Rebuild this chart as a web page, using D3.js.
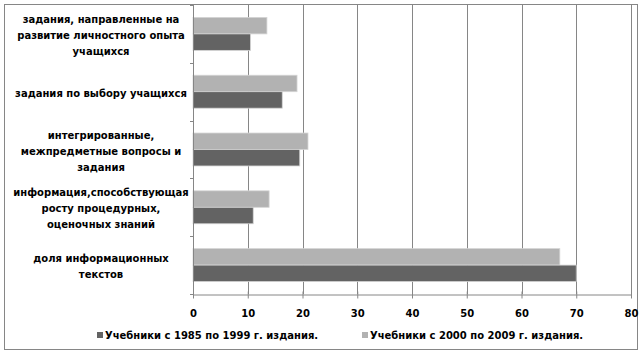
<!DOCTYPE html>
<html>
<head>
<meta charset="utf-8">
<script src="https://cdn.jsdelivr.net/npm/d3@7"></script>
<style>
  html, body { margin: 0; padding: 0; background: #fff; }
  svg { display: block; }
  text { font-family: "DejaVu Sans", Verdana, sans-serif; font-weight: bold; fill: #000; }
</style>
</head>
<body>
<div id="chart"></div>
<script>
// Category labels, already wrapped the way the reference wraps them
const categories = [
    ["задания, направленные на", "развитие личностного опыта", "учащихся"],
    ["задания по выбору учащихся"],
    ["интегрированные,", "межпредметные вопросы и", "задания"],
    ["информация,способствующая", "росту процедурных,", "оценочных знаний"],
    ["доля информационных", "текстов"]
];
const seriesNames = ["Учебники с 1985 по 1999 г. издания.", "Учебники с 2000 по 2009 г. издания."];
const values1985 = [10.5, 16.3, 19.5, 11.0, 70.0];
const values2000 = [13.5, 19.0, 21.0, 13.9, 67.0];
const xTicks = [0, 10, 20, 30, 40, 50, 60, 70, 80];

const width = 644;
const height = 355;
const colors = { s1985: "#636363", s2000: "#b2b2b2" };
const gridColor = "#868686";

const svg = d3.select("#chart").append("svg")
    .attr("width", width)
    .attr("height", height);

// chart border
svg.append("rect")
    .attr("x", 4.5).attr("y", 4.5)
    .attr("width", 633).attr("height", 345)
    .attr("fill", "#fff")
    .attr("stroke", gridColor);

const plot = { left: 193, right: 631, top: 5, bottom: 294 };

const x = d3.scaleLinear().domain([0, 80]).range([plot.left, plot.right]);
const y = d3.scaleBand()
    .domain(d3.range(categories.length))
    .range([plot.top, plot.bottom])
    .paddingInner(0.43)
    .paddingOuter(0.215);
// light bar sits above the dark one inside each category
const ySub = d3.scaleBand().domain(["s2000", "s1985"]).range([0, y.bandwidth()]);

// vertical gridlines
svg.append("g")
    .selectAll("line")
    .data(xTicks.slice(1))
    .join("line")
    .attr("x1", d => Math.round(x(d)) + 0.5)
    .attr("x2", d => Math.round(x(d)) + 0.5)
    .attr("y1", plot.top)
    .attr("y2", plot.bottom)
    .attr("stroke", gridColor);

// bars
const rows = categories.map((c, i) => ({ i, s1985: values1985[i], s2000: values2000[i] }));
const groups = svg.append("g")
    .selectAll("g")
    .data(rows)
    .join("g")
    .attr("transform", d => `translate(0,${y(d.i)})`);

groups.selectAll("rect")
    .data(d => ["s2000", "s1985"].map(k => ({ k, v: d[k] })))
    .join("rect")
    .attr("x", x(0))
    .attr("y", d => ySub(d.k))
    .attr("width", d => x(d.v) - x(0))
    .attr("height", ySub.bandwidth())
    .attr("fill", d => colors[d.k])
    .attr("stroke", "#d4d4d4")
    .attr("stroke-width", 0.8);

// bottom axis with crossing ticks
const xAxis = svg.append("g")
    .attr("transform", `translate(0,${plot.bottom + 0.5})`)
    .call(d3.axisBottom(x).tickValues(xTicks).tickSize(4).tickSizeOuter(0).tickFormat(d3.format("d")));
xAxis.select(".domain").attr("stroke", gridColor);
xAxis.selectAll(".tick line").attr("stroke", gridColor).attr("y1", -3);
xAxis.selectAll(".tick text")
    .attr("y", 15)
    .attr("font-size", 10)
    .attr("font-family", null);

// left axis line with category separators
svg.append("line")
    .attr("x1", plot.left + 0.5).attr("x2", plot.left + 0.5)
    .attr("y1", plot.top).attr("y2", plot.bottom + 4)
    .attr("stroke", gridColor);
const step = y.step();
svg.append("g")
    .selectAll("line")
    .data(d3.range(categories.length + 1))
    .join("line")
    .attr("x1", plot.left - 3)
    .attr("x2", plot.left)
    .attr("y1", i => Math.round(plot.top + i * step) + 0.5)
    .attr("y2", i => Math.round(plot.top + i * step) + 0.5)
    .attr("stroke", gridColor);

// category labels
const lineHeight = 16;
svg.append("g")
    .selectAll("text")
    .data(categories)
    .join("text")
    .attr("text-anchor", "middle")
    .attr("font-size", 10)
    .each(function (lines, i) {
        const cy = y(i) + y.bandwidth() / 2 + 1.5;
        const y0 = cy - (lines.length - 1) * lineHeight / 2 + 3.5;
        d3.select(this).selectAll("tspan")
            .data(lines)
            .join("tspan")
            .attr("x", 101)
            .attr("y", (d, j) => y0 + j * lineHeight)
            .text(d => d);
    });

// legend
const legend = svg.append("g")
    .selectAll("g")
    .data([{ name: seriesNames[0], k: "s1985", x: 97 }, { name: seriesNames[1], k: "s2000", x: 362 }])
    .join("g")
    .attr("transform", d => `translate(${d.x},332)`);
legend.append("rect")
    .attr("width", 6).attr("height", 6)
    .attr("fill", d => colors[d.k]);
legend.append("text")
    .attr("x", 8)
    .attr("y", 7)
    .attr("font-size", 10)
    .text(d => d.name);
</script>
</body>
</html>
